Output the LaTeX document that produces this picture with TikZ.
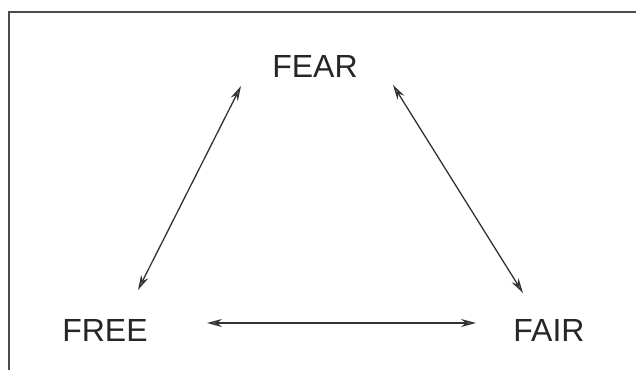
\documentclass[tikz,border=0pt]{standalone}
\usepackage{fontspec}
\setmainfont{Liberation Sans}
\usetikzlibrary{arrows.meta}
\begin{document}
\begin{tikzpicture}[x=1pt,y=1pt,
  word/.style={font=\fontsize{32}{36}\selectfont, text=black!85, inner sep=0pt},
  link/.style={line width=1.3pt, draw=black!80, {Stealth[length=15pt,width=8pt,fill=black!55]}-{Stealth[length=15pt,width=8pt,fill=black!55]}},
  frame/.style={line width=1.3pt, draw=black!70}]
\useasboundingbox (0,0) rectangle (636,370);
\draw[frame] (9,0) -- (9,358) -- (636,358);
\node[word] (fear) at (315,304) {FEAR};
\node[word] (free) at (105,40) {FREE};
\node[word] (fair) at (549,40) {FAIR};
\coordinate (l1) at (138,80);
\coordinate (l2) at (241,284);
\coordinate (r1) at (393,285);
\coordinate (r2) at (523,77);
\coordinate (h1) at (207,47);
\coordinate (h2) at (476,47);
\draw[link] (l1) -- (l2);
\draw[link] (r1) -- (r2);
\draw[link] (h1) -- (h2);
\end{tikzpicture}
\end{document}
